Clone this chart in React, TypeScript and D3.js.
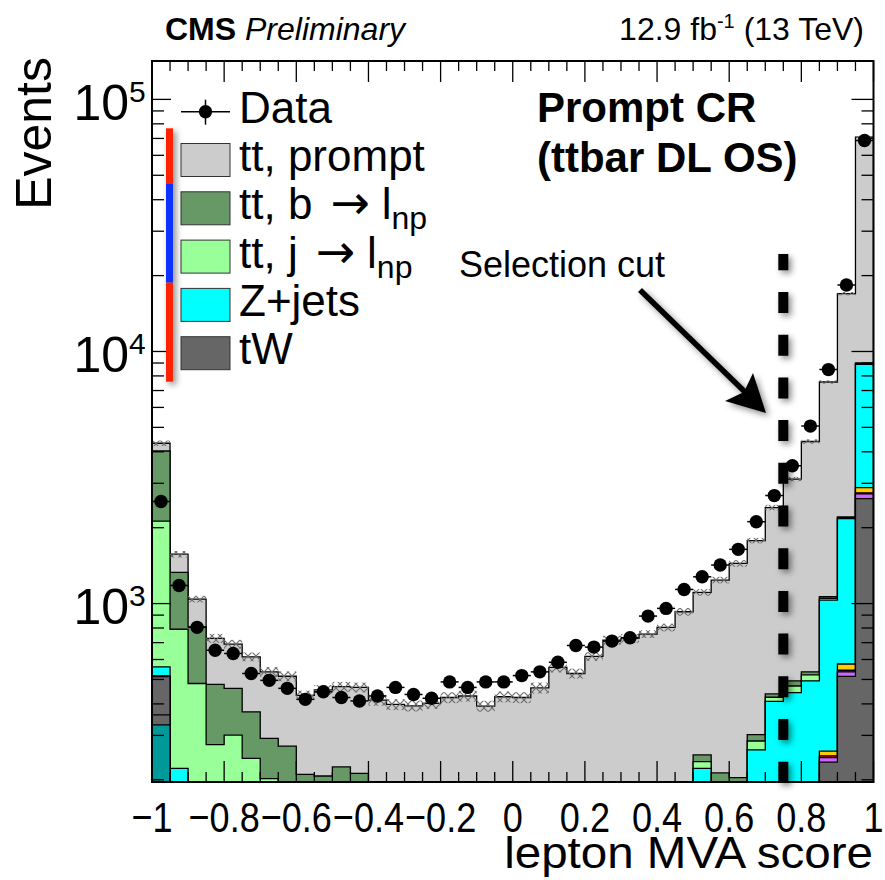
import React from 'react';
import * as d3 from 'd3';

// ---- Data (40 bins of width 0.05 from -1 to 1) ----
const nBins = 40;
const xMin = -1;
const binWidth = 0.05;

const tealVals = [330, 50, 30, 20, 15, 12, 10, 8, 7, 6, 6, 5, 5, 5, 5, 5, 5, 5, 5, 5, 5, 5, 5, 5, 5, 5, 5, 5, 5, 5, 5, 5, 5, 5, 5, 5, 5, 5, 8, 20];
const otherVals = [32, 0, 0, 0, 0, 0, 0, 0, 0, 0, 0, 0, 0, 0, 0, 0, 0, 0, 0, 0, 0, 0, 0, 0, 0, 0, 0, 0, 0, 0, 0, 0, 0, 0, 0, 0, 0, 0, 0, 0];
const tWVals = [151, 100, 80, 70, 65, 60, 55, 55, 50, 50, 50, 50, 48, 48, 48, 48, 48, 48, 48, 48, 48, 48, 48, 48, 48, 48, 48, 48, 48, 48, 60, 60, 65, 80, 100, 120, 150, 230, 506, 2586];
const purpleVals = [1, 0, 0, 0, 0, 0, 0, 0, 0, 0, 0, 0, 0, 0, 0, 0, 0, 0, 0, 0, 0, 0, 0, 0, 0, 0, 0, 0, 0, 0, 2, 2, 2, 3, 4, 5, 6, 10, 22, 117];
const redVals = [0, 0, 0, 0, 0, 0, 0, 0, 0, 0, 0, 0, 0, 0, 0, 0, 0, 0, 0, 0, 0, 0, 0, 0, 0, 0, 0, 0, 0, 0, 0, 0, 0, 0, 0, 0, 0, 4, 8, 27];
const yellowVals = [2, 2, 2, 1, 1, 1, 1, 1, 1, 1, 1, 1, 1, 1, 1, 1, 1, 1, 1, 1, 1, 1, 1, 1, 1, 1, 1, 1, 1, 1, 3, 3, 3, 4, 5, 6, 9, 11, 32, 134];
const zjetsVals = [45, 70, 40, 30, 25, 20, 18, 16, 14, 13, 12, 12, 12, 12, 12, 12, 12, 12, 12, 12, 12, 12, 12, 12, 12, 12, 12, 12, 12, 12, 152, 100, 100, 171, 295, 307, 324, 772, 1597, 6006];
const ttJetVals = [1561, 569, 330, 155, 195, 150, 118, 100, 80, 70, 60, 50, 40, 40, 40, 40, 40, 40, 40, 40, 40, 40, 40, 40, 40, 40, 40, 40, 40, 40, 14, 20, 15, 22, 16, 28, 27, 18, 17, 60];
const ttBVals = [1908, 539, 327, 202, 160, 129, 90, 92, 58, 67, 96, 94, 60, 60, 60, 60, 60, 60, 60, 60, 60, 60, 60, 60, 60, 60, 60, 60, 60, 60, 15, 23, 14, 17, 13, 23, 15, 15, 15, 50];
const ttPromptVals = [295, 240, 233, 250, 229, 243, 244, 243, 222, 248, 243, 253, 248, 232, 227, 236, 258, 264, 226, 261, 258, 297, 392, 362, 451, 550, 562, 591, 638, 762, 857, 1027, 1240, 1476, 1966, 2625, 3859, 6503, 14745, 61800];
const dataVals = [2540, 1180, 805, 653, 634, 528, 496, 461, 417, 447, 424, 411, 430, 465, 436, 421, 489, 465, 489, 489, 518, 536, 585, 682, 672, 710, 732, 892, 957, 1138, 1277, 1422, 1641, 2113, 2681, 3523, 5058, 8475, 18360, 68700];
const mcUncRel = [0.025, 0.03, 0.03, 0.04, 0.04, 0.04, 0.045, 0.045, 0.045, 0.045, 0.045, 0.045, 0.05, 0.05, 0.05, 0.05, 0.05, 0.05, 0.05, 0.05, 0.05, 0.05, 0.045, 0.045, 0.04, 0.04, 0.04, 0.035, 0.035, 0.035, 0.03, 0.03, 0.03, 0.025, 0.025, 0.02, 0.02, 0.015, 0.015, 0.01];

const xTickValues = [-1, -0.8, -0.6, -0.4, -0.2, 0, 0.2, 0.4, 0.6, 0.8, 1];
const xTickLabels = ['\u22121', '\u22120.8', '\u22120.6', '\u22120.4', '\u22120.2', '0', '0.2', '0.4', '0.6', '0.8', '1'];
const yDecades = [1e3, 1e4, 1e5];
const yDecadeExp = ['3', '4', '5'];
const cutValue = 0.75;

const layerDefs = [
  { key: 'teal', values: tealVals, color: '#009999' },
  { key: 'other', values: otherVals, color: '#666666' },
  { key: 'tW', values: tWVals, color: '#666666' },
  { key: 'purple', values: purpleVals, color: '#cc66ff' },
  { key: 'red', values: redVals, color: '#ff0000' },
  { key: 'yellow', values: yellowVals, color: '#ffcc00' },
  { key: 'zjets', values: zjetsVals, color: '#00ffff' },
  { key: 'ttj', values: ttJetVals, color: '#99ff99' },
  { key: 'ttb', values: ttBVals, color: '#669966' },
  { key: 'ttprompt', values: ttPromptVals, color: '#cccccc' },
];

const legendEntries = [
  { label: 'tt, prompt', arrowTo: '', color: '#cccccc', sub: '' },
  { label: 'tt, b', arrowTo: 'l', color: '#669966', sub: 'np' },
  { label: 'tt, j', arrowTo: 'l', color: '#99ff99', sub: 'np' },
  { label: 'Z+jets', arrowTo: '', color: '#00ffff', sub: '' },
  { label: 'tW', arrowTo: '', color: '#666666', sub: '' },
];

const FONT = "'Liberation Sans', Arial, Helvetica, sans-serif";

export default function App() {
  const W = 885, H = 880;
  const L = 152, R = 873.5, T = 61, B = 782;
  const x = d3.scaleLinear().domain([-1, 1]).range([L, R]);
  const y = d3.scaleLog().domain([196, 142000]).range([B, T]);
  const yc = (v: number) => (v <= 0 ? B + 50 : Math.min(B + 50, y(v)));

  const edges = d3.range(nBins + 1).map((i) => xMin + i * binWidth);
  const keys = layerDefs.map((d) => d.key);
  const rows = d3.range(nBins).map((i) => {
    const r: any = { i };
    layerDefs.forEach((d) => (r[d.key] = d.values[i]));
    return r;
  });
  const series = d3.stack().keys(keys)(rows as any);

  const stepPath = (cum: number[]) => {
    const pts: [number, number][] = [[x(edges[0]), B + 50]];
    cum.forEach((c, i) => {
      pts.push([x(edges[i]), yc(c)]);
      pts.push([x(edges[i + 1]), yc(c)]);
    });
    pts.push([x(edges[nBins]), B + 50]);
    return d3.line()(pts) + 'Z';
  };

  const layerPaths = series.map((s, k) => ({
    color: layerDefs[k].color,
    d: stepPath(s.map((p: any) => p[1])),
  }));
  const totals = series[series.length - 1].map((p: any) => p[1]);

  const xMinor = d3.range(0, 41).map((i) => ({ v: xMin + i * binWidth, major: i % 4 === 0 }));
  const yTicks: { v: number; major: boolean }[] = [];
  [100, 1000, 10000, 100000].forEach((d) => {
    for (let k = 1; k <= 9; k++) {
      const v = k * d;
      if (v >= 196 && v <= 142000) yTicks.push({ v, major: k === 1 });
    }
  });

  const legendX = 181, legendBoxW = 49, legendBoxH = 33;
  const rowY = (i: number) => 111.7 + 48.3 * i;

  const cutX = x(cutValue);

  return (
    <svg width={W} height={H} style={{ position: 'absolute', left: 0, top: 0, background: '#fff' }} fontFamily={FONT}>
      <defs>
        <clipPath id="plotclip">
          <rect x={L} y={T} width={R - L} height={B - T} />
        </clipPath>
        <pattern id="hatch" width="8" height="8" patternUnits="userSpaceOnUse">
          <path d="M0,0 L8,8 M8,0 L0,8" stroke="#6a6a6a" strokeWidth="1.1" />
        </pattern>
        <filter id="shadow" filterUnits="userSpaceOnUse" x="0" y="0" width={W} height={H}>
          <feDropShadow dx="3" dy="3" stdDeviation="3" floodColor="#000" floodOpacity="0.45" />
        </filter>
      </defs>
      <rect x={0} y={0} width={W} height={H} fill="#fff" />

      <g clipPath="url(#plotclip)">
        {layerPaths.slice().reverse().map((lp, i) => (
          <path key={i} d={lp.d} fill={lp.color} stroke="#000" strokeWidth={1.3} />
        ))}
        {totals.map((t: number, i: number) => {
          const y1 = y(t * (1 + mcUncRel[i]));
          const y0 = y(t * (1 - mcUncRel[i]));
          return (
            <rect key={'h' + i} x={x(edges[i])} y={y1} width={x(edges[i + 1]) - x(edges[i])} height={y0 - y1} fill="url(#hatch)" />
          );
        })}
        {dataVals.map((v, i) => {
          const cx = (x(edges[i]) + x(edges[i + 1])) / 2;
          const cy = y(v);
          const e = Math.sqrt(v);
          return (
            <g key={'d' + i}>
              <line x1={x(edges[i])} x2={x(edges[i + 1])} y1={cy} y2={cy} stroke="#000" strokeWidth={1.5} />
              <line x1={cx} x2={cx} y1={y(v + e)} y2={y(v - e)} stroke="#000" strokeWidth={1.5} />
              <circle cx={cx} cy={cy} r={6.7} fill="#000" />
            </g>
          );
        })}
      </g>

      {/* ticks */}
      {xMinor.map((t, i) => (
        <g key={'xt' + i}>
          <line x1={x(t.v)} x2={x(t.v)} y1={B} y2={B - (t.major ? 21 : 10)} stroke="#000" strokeWidth={1.3} />
          <line x1={x(t.v)} x2={x(t.v)} y1={T} y2={T + (t.major ? 21 : 10)} stroke="#000" strokeWidth={1.3} />
        </g>
      ))}
      {yTicks.map((t, i) => (
        <g key={'yt' + i}>
          <line x1={L} x2={L + (t.major ? 19 : 12)} y1={y(t.v)} y2={y(t.v)} stroke="#000" strokeWidth={1.3} />
          <line x1={R} x2={R - (t.major ? 22 : 12)} y1={y(t.v)} y2={y(t.v)} stroke="#000" strokeWidth={1.3} />
        </g>
      ))}
      <rect x={L} y={T} width={R - L} height={B - T} fill="none" stroke="#000" strokeWidth={2} />

      {/* x tick labels */}
      {xTickValues.map((v, i) => (
        <text key={'xl' + i} transform={`translate(${x(v)},832) scale(0.84,1)`} textAnchor="middle" fontSize={43}>
          {xTickLabels[i]}
        </text>
      ))}
      {/* y tick labels */}
      {yDecades.map((v, i) => (
        <text key={'yl' + i} x={145.7} y={y(v) + 20.7} textAnchor="end" fontSize={50}>
          10
          <tspan fontSize={30} dy={-18.3}>{yDecadeExp[i]}</tspan>
        </text>
      ))}

      {/* axis titles */}
      <text transform="translate(873,868) scale(1.08,1)" textAnchor="end" fontSize={44}>lepton MVA score</text>
      <text transform="translate(51,57) rotate(-90)" textAnchor="end" fontSize={50}>Events</text>

      {/* header */}
      <text x={165} y={40} fontSize={32}>
        <tspan fontWeight="bold">CMS</tspan>
        <tspan fontStyle="italic"> Preliminary</tspan>
      </text>
      <text x={864} y={40} fontSize={32} textAnchor="end">
        12.9 fb<tspan fontSize={20} dy={-12}>-1</tspan><tspan dy={12}> (13 TeV)</tspan>
      </text>

      {/* region label */}
      <text x={537} y={122} fontSize={42} fontWeight="bold">Prompt CR</text>
      <text x={537} y={172} fontSize={42} fontWeight="bold">(ttbar DL OS)</text>

      {/* legend */}
      <g>
        <line x1={legendX} x2={legendX + legendBoxW} y1={rowY(0)} y2={rowY(0)} stroke="#000" strokeWidth={1.5} />
        <line x1={legendX + legendBoxW / 2} x2={legendX + legendBoxW / 2} y1={rowY(0) - 12} y2={rowY(0) + 13} stroke="#000" strokeWidth={1.5} />
        <circle cx={legendX + legendBoxW / 2} cy={rowY(0)} r={6.7} fill="#000" />
        <text x={239} y={rowY(0) + 11} fontSize={44}>Data</text>
        {legendEntries.map((e, i) => (
          <g key={'lg' + i}>
            <rect x={legendX} y={rowY(i + 1) - legendBoxH / 2} width={legendBoxW} height={legendBoxH} fill={e.color} stroke="#333" strokeWidth={1} />
            <text x={239} y={rowY(i + 1) + 11} fontSize={44}>
              {e.label}
              {e.arrowTo ? (
                <>
                  <tspan fontFamily="'DejaVu Sans', sans-serif" fontSize={47} dx={18}>{'\u2192'}</tspan>
                  <tspan dx={12}>{e.arrowTo}</tspan>
                  <tspan fontSize={32} dy={10}>{e.sub}</tspan>
                </>
              ) : null}
            </text>
          </g>
        ))}
      </g>

      {/* coloured bar */}
      <g filter="url(#shadow)">
        <rect x={166} y={128.3} width={7} height={55.7} fill="#ff2200" />
        <rect x={166} y={184} width={7} height={98.7} fill="#0a32ff" />
        <rect x={166} y={282.7} width={7} height={99} fill="#ff2200" />
      </g>

      {/* selection cut */}
      <g filter="url(#shadow)">
        <line x1={cutX} x2={cutX} y1={254} y2={786} stroke="#000" strokeWidth={10} strokeDasharray="21 21.7" strokeDashoffset={4.7} />
      </g>
      <text x={459} y={277} fontSize={36}>Selection cut</text>
      <g filter="url(#shadow)">
        <line x1={640} y1={290} x2={745} y2={392} stroke="#000" strokeWidth={5.5} />
        <polygon points="766,413 725,401 744,392 753,373" fill="#000" />
      </g>
    </svg>
  );
}
